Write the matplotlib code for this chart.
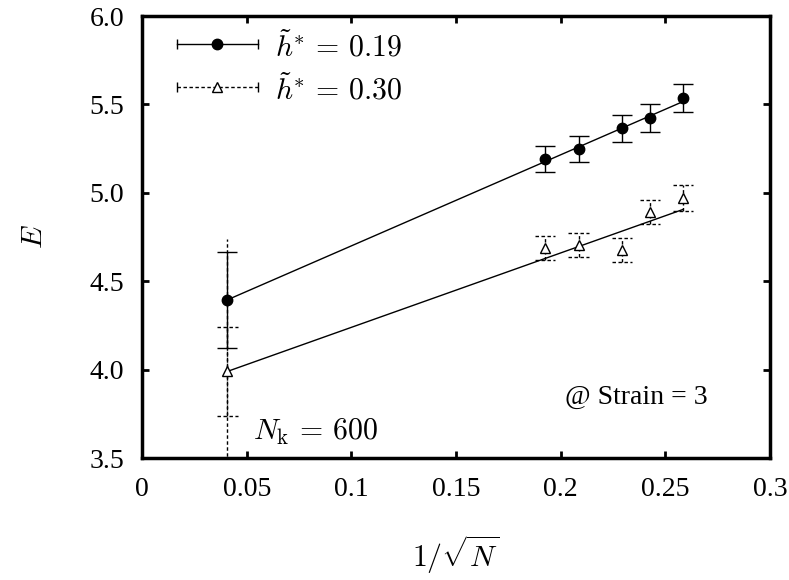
import numpy as np
import matplotlib
matplotlib.use("Agg")
import matplotlib.pyplot as plt

plt.rcParams["font.family"] = ["Liberation Serif", "DejaVu Serif"]
plt.rcParams["mathtext.fontset"] = "cm"

# 1/sqrt(N) for the points (N_k = 600 and the small systems)
n_k = 600
n_vals = np.array([27, 23, 19, 17, 15])
x_nk = 1 / np.sqrt(n_k)
x_pts = 1 / np.sqrt(n_vals)

# h* = 0.19
e1_nk, err1_nk = 4.395, 0.27
e1 = [5.193, 5.248, 5.364, 5.423, 5.537]
err1 = [0.074, 0.076, 0.078, 0.078, 0.078]
fit1 = [4.395, 5.515]

# h* = 0.30
e2_nk, err2_nk, err2_nk_long = 3.99, 0.25, 0.75
e2 = [4.687, 4.706, 4.677, 4.892, 4.970]
err2 = [0.069, 0.069, 0.069, 0.070, 0.073]
fit2 = [3.99, 4.905]

fig = plt.figure(figsize=(7.89, 5.80), dpi=100)
ax = fig.add_axes([0.180, 0.2103, 0.796, 0.7621])

dash = (0, (2.5, 1.8))
cap_hw = 0.0048

# series 1
xs1 = np.concatenate([[x_nk], x_pts])
ys1 = np.concatenate([[e1_nk], e1])
es1 = np.concatenate([[err1_nk], err1])
ax.errorbar(xs1, ys1, yerr=es1, fmt="o", color="black", ms=7.5,
            elinewidth=1, capsize=7, capthick=1, zorder=4)
ax.plot([x_nk, x_pts[-1]], fit1, color="black", lw=1, zorder=3)

# series 2
xs2 = np.concatenate([[x_nk], x_pts])
ys2 = np.concatenate([[e2_nk], e2])
es2 = np.concatenate([[err2_nk], err2])
ax.vlines(x_nk, e2_nk - err2_nk_long, e2_nk + err2_nk_long, colors="black",
          lw=1, linestyles=dash, zorder=3)
ax.vlines(xs2, ys2 - es2, ys2 + es2, colors="black", lw=1, linestyles=dash, zorder=3)
ax.hlines(ys2 + es2, xs2 - cap_hw, xs2 + cap_hw, colors="black", lw=1,
          linestyles=dash, zorder=3)
ax.hlines(ys2 - es2, xs2 - cap_hw, xs2 + cap_hw, colors="black", lw=1,
          linestyles=dash, zorder=3)
ax.plot(xs2, ys2, ls="none", marker="^", ms=7, mfc="white", mec="black",
        mew=1, zorder=4)
ax.plot([x_nk, x_pts[-1]], fit2, color="black", lw=1, zorder=3)

# legend drawn by hand, gnuplot style
for yl, ls, mk, mfc, lab in [(0.9367, "-", "o", "black", r"$\tilde{h}^{*}\,=\,0.19$"),
                             (0.8394, dash, "^", "white", r"$\tilde{h}^{*}\,=\,0.30$")]:
    ax.plot([0.0557, 0.1847], [yl, yl], transform=ax.transAxes, color="black",
            lw=1, ls=ls, clip_on=False)
    ax.plot([0.0557, 0.1847], [yl, yl], transform=ax.transAxes, ls="none",
            marker="|", ms=7, mew=1, color="black", clip_on=False)
    ax.plot([0.119], [yl], transform=ax.transAxes, ls="none", marker=mk,
            ms=7.5 if mk == "o" else 7, mfc=mfc, mec="black", mew=1, clip_on=False)
    ax.text(0.212, yl - 0.005, lab, transform=ax.transAxes, fontsize=21.5,
            va="center", ha="left")

ax.text(0.176, 0.058, r"$N_{\mathrm{k}}\,=\,600$", transform=ax.transAxes,
        fontsize=21.5, ha="left", va="center")
ax.text(0.787, 0.138, "@ Strain = 3", transform=ax.transAxes, fontsize=20,
        ha="center", va="center")

ax.set_xlim(0, 0.3)
ax.set_ylim(3.5, 6.0)
ax.set_xticks([0, 0.05, 0.1, 0.15, 0.2, 0.25, 0.3])
ax.set_xticklabels(["0", "0.05", "0.1", "0.15", "0.2", "0.25", "0.3"])
ax.set_yticks([3.5, 4.0, 4.5, 5.0, 5.5, 6.0])
ax.set_yticklabels(["3.5", "4.0", "4.5", "5.0", "5.5", "6.0"])
ax.tick_params(direction="in", length=5, width=2, labelsize=20,
               top=True, right=True)
ax.tick_params(axis="y", pad=13)
ax.tick_params(axis="x", pad=14)
for sp in ax.spines.values():
    sp.set_linewidth(2.5)

ax.set_xlabel(r"$1/\sqrt{N}$", fontsize=21.5, va="center")
ax.xaxis.set_label_coords(0.5, -0.2195)
ax.set_ylabel(r"$E$", fontsize=21.5, va="center")
ax.yaxis.set_label_coords(-0.170, 0.5)

fig.savefig("out.png", dpi=100)
